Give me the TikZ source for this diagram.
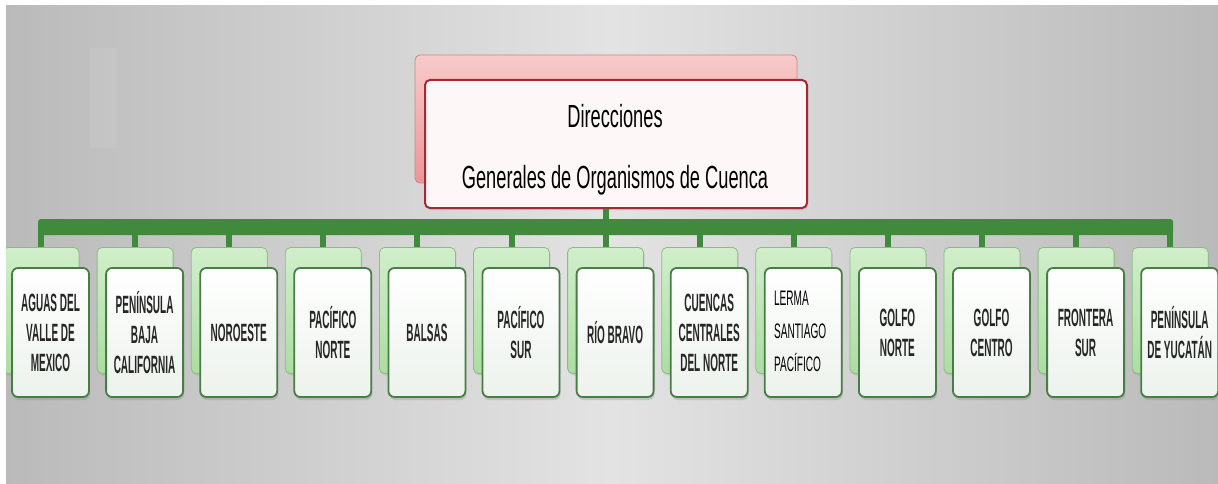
\documentclass[tikz,border=0pt]{standalone}
\usepackage{fontspec}
\setmainfont{Liberation Sans}
\newfontfamily\childfont[FakeStretch=0.4]{Liberation Sans Bold}
\newfontfamily\titlefont[FakeStretch=0.57]{Liberation Sans}
\newfontfamily\lermafont[FakeStretch=0.48]{Liberation Sans}
\usetikzlibrary{shadows,calc}
\definecolor{bgdark}{RGB}{186,186,186}
\definecolor{bglight}{RGB}{227,227,227}
\definecolor{busgreen}{RGB}{64,138,60}
\definecolor{cborder}{RGB}{72,125,70}
\definecolor{cbacktop}{RGB}{208,238,202}
\definecolor{cbackbot}{RGB}{172,221,162}
\definecolor{cbackline}{RGB}{140,188,134}
\definecolor{cfronttop}{RGB}{255,255,255}
\definecolor{cfrontbot}{RGB}{236,242,236}
\definecolor{tbacktop}{RGB}{248,202,202}
\definecolor{tbackbot}{RGB}{236,150,150}
\definecolor{tbackline}{RGB}{190,140,140}
\definecolor{tfrontfill}{RGB}{253,247,247}
\definecolor{tborder}{RGB}{165,40,55}
\tikzset{
  topback/.style={draw=tbackline, line width=0.8pt, top color=tbacktop, bottom color=tbackbot,
    rounded corners=5pt, minimum width=382pt, minimum height=128pt, inner sep=0pt},
  topfront/.style={draw=tborder, line width=2pt, fill=tfrontfill, rounded corners=5pt,
    minimum width=382pt, minimum height=128pt, inner sep=0pt,
    drop shadow={opacity=0.25, shadow xshift=1pt, shadow yshift=-2pt}},
  titletext/.style={font=\titlefont\fontsize{32}{36}\selectfont, inner sep=0pt, text=black},
  childback/.style={draw=cbackline, line width=0.8pt, top color=cbacktop, bottom color=cbackbot,
    rounded corners=5pt, minimum width=76pt, minimum height=126pt, inner sep=0pt,
    drop shadow={opacity=0.2, shadow xshift=1pt, shadow yshift=-2pt}},
  childfront/.style={draw=cborder, line width=1.8pt, top color=cfronttop, bottom color=cfrontbot,
    rounded corners=6pt, minimum width=77pt, minimum height=129pt, inner sep=0pt, align=center,
    font=\childfont\fontsize{25}{30}\selectfont, text=black!85,
    drop shadow={opacity=0.3, shadow xshift=1pt, shadow yshift=-3pt}},
  lermatext/.style={font=\lermafont\fontsize{21}{33}\selectfont, align=left, inner sep=0pt, text=black},
  stub/.style={draw=busgreen, line width=6pt},
}
\begin{document}
\begin{tikzpicture}[x=1pt,y=-1pt]
\useasboundingbox (0,0) rectangle (1218,484);
\fill[white] (0,0) rectangle (1218,484);
\begin{scope}
\clip (6,6) rectangle (1218,484);
\shade[left color=bgdark, right color=bgdark, middle color=bglight] (6,6) rectangle (1218,484);
\fill[white, opacity=0.07] (90,48) rectangle (117,148);
\coordinate (bus) at (0,227);
% top boxes
\node[topback] (tb) at (606,119) {};
% children back boxes
\foreach \k in {1,...,13} {
  \pgfmathsetmacro\cx{41+94.1*(\k-1)}
  \node[childback] (b\k) at (\cx,310.5) {};
}
% connectors
\fill[busgreen, rounded corners=3pt] ($(b1.north |- bus)+(-3,-8)$) rectangle ($(b13.north |- bus)+(3,8)$);
\foreach \k in {1,...,13} {
  \draw[stub] (b\k.north |- bus) -- (b\k.north);
}
\node[topfront] (t) at (616,144) {};
\draw[stub] (tb.south |- t.south) -- (tb.south |- bus);
\node[titletext, anchor=base] (t1) at (615,128) {Direcciones};
\node[titletext, anchor=base] (t2) at (615,188) {Generales de Organismos de Cuenca};
% children front boxes
\foreach \txt [count=\k] in {{AGUAS DEL\\VALLE DE\\MEXICO}, {PENÍNSULA\\BAJA\\CALIFORNIA}, {NOROESTE}, {PACÍFICO\\NORTE}, {BALSAS}, {PACÍFICO\\SUR}, {RÍO BRAVO}, {CUENCAS\\CENTRALES\\DEL NORTE}, {}, {GOLFO\\NORTE}, {GOLFO\\CENTRO}, {FRONTERA\\SUR}, {PENÍNSULA\\DE YUCATÁN}} {
  \pgfmathsetmacro\cx{50.5+94.1*(\k-1)}
  \node[childfront] (c\k) at (\cx,332.5) {\txt};
}
\node[lermatext, anchor=north west] (l9) at ($(c9.west)+(10,-41.5)$) {LERMA\\SANTIAGO\\PACÍFICO};
\end{scope}
\end{tikzpicture}
\end{document}
